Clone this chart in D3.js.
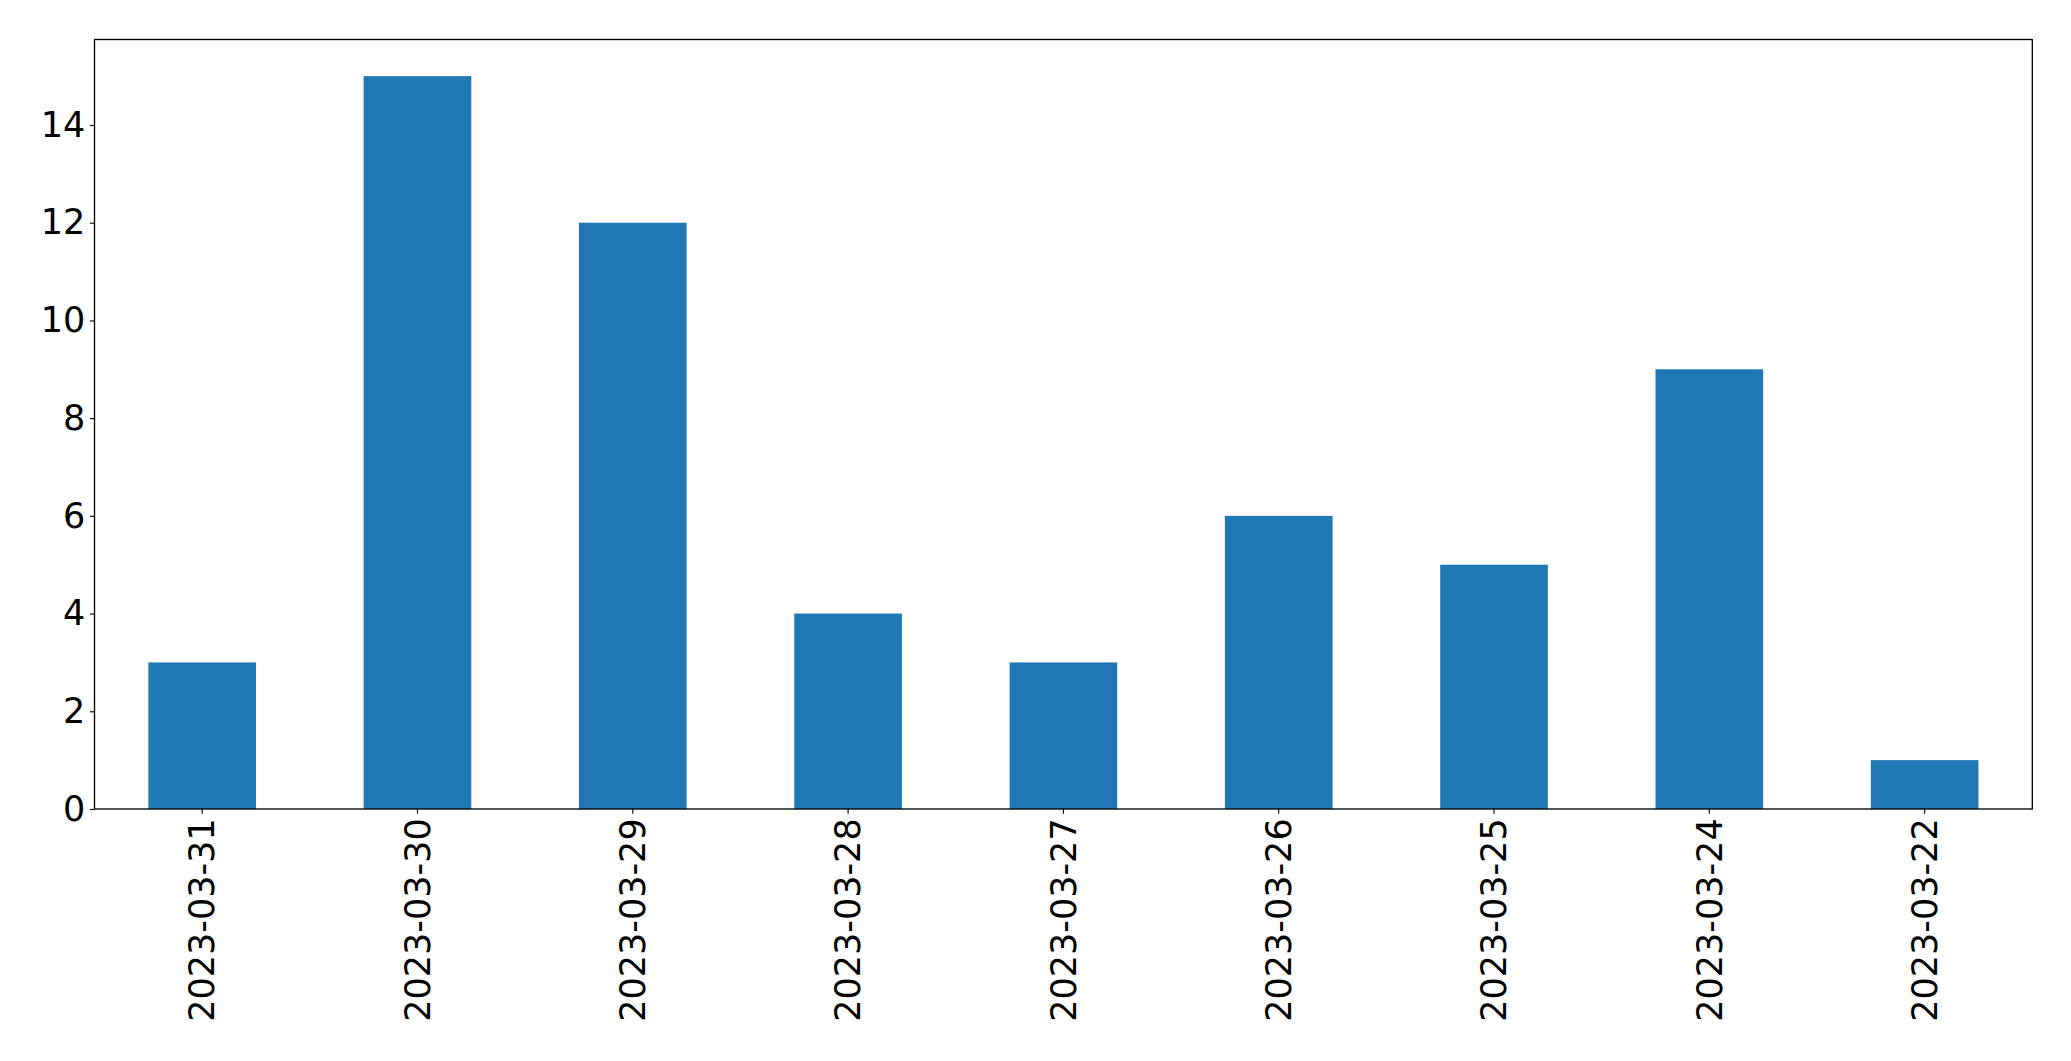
<!DOCTYPE html>
<html>
<head>
<meta charset="utf-8">
<script src="https://d3js.org/d3.v7.min.js"></script>
<style>
  html, body { margin: 0; padding: 0; background: #fff; }
  svg { display: block; }
</style>
</head>
<body>
<svg id="chart" width="2071" height="1061"></svg>
<script>
const categories = ["2023-03-31","2023-03-30","2023-03-29","2023-03-28","2023-03-27","2023-03-26","2023-03-25","2023-03-24","2023-03-22"];
const values = [3, 15, 12, 4, 3, 6, 5, 9, 1];
const yTicks = [0, 2, 4, 6, 8, 10, 12, 14];

const W = 2071, H = 1061;
const margin = {left: 94.5, right: W - 2032.3, top: 39.5, bottom: H - 809};
const svg = d3.select("#chart");
const g = svg.append("g");

const x = d3.scaleBand().domain(categories)
  .range([margin.left, W - margin.right]).paddingInner(0.5).paddingOuter(0.25);
const y = d3.scaleLinear().domain([0, d3.max(values) * 1.05])
  .range([H - margin.bottom, margin.top]);

g.selectAll("rect.bar").data(values).join("rect")
  .attr("class", "bar")
  .attr("x", (d, i) => x(categories[i]))
  .attr("width", x.bandwidth())
  .attr("y", d => y(d))
  .attr("height", d => y(0) - y(d))
  .attr("fill", "#1f77b4");

const fontSize = 35;
const tickLen = 4.67, pad = 4.67;

const yAxis = d3.axisLeft(y).tickValues(yTicks).tickSize(tickLen).tickPadding(pad).tickFormat(d3.format("d"));
const ya = g.append("g").attr("transform", `translate(${margin.left},0)`).call(yAxis);
ya.select(".domain").remove();
ya.selectAll(".tick line").attr("stroke", "#000").attr("stroke-width", 1.1);
ya.selectAll(".tick text").attr("font-family", "DejaVu Sans").attr("font-size", fontSize).attr("fill", "#000");

const xAxis = d3.axisBottom(x).tickSize(tickLen).tickPadding(pad);
const xa = g.append("g").attr("transform", `translate(0,${H - margin.bottom})`).call(xAxis);
xa.select(".domain").remove();
xa.selectAll(".tick line").attr("stroke", "#000").attr("stroke-width", 1.1);
xa.selectAll(".tick text")
  .attr("font-family", "DejaVu Sans").attr("font-size", fontSize).attr("fill", "#000")
  .attr("transform", `translate(0,${tickLen + pad}) rotate(-90)`)
  .attr("x", 0).attr("y", 0).attr("dy", "0.35em")
  .attr("text-anchor", "end");

g.append("rect")
  .attr("x", margin.left).attr("y", margin.top)
  .attr("width", W - margin.right - margin.left)
  .attr("height", H - margin.bottom - margin.top)
  .attr("fill", "none").attr("stroke", "#000").attr("stroke-width", 1.33);
</script>
</body>
</html>
